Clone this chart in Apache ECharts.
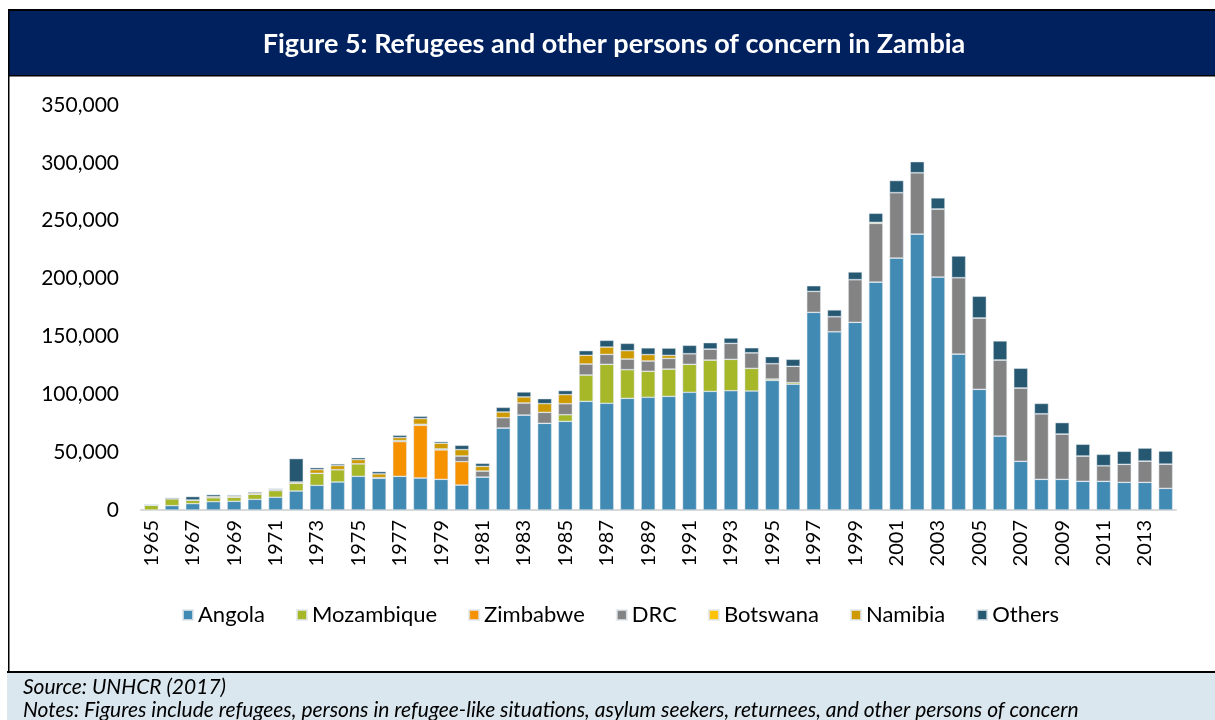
<!DOCTYPE html>
<html>
<head>
<meta charset="utf-8">
<script src="https://cdn.jsdelivr.net/npm/echarts@6/dist/echarts.min.js"></script>
<style>
html,body{margin:0;padding:0;background:#fff;}
#chart{width:1215px;height:720px;}
</style>
</head>
<body>
<div id="chart"></div>
<script>
const years = [];
for (let y = 1965; y <= 2014; y++) years.push(String(y));

const angola = [0,3800,5500,7200,7500,9200,11000,16400,21300,24200,
  29100,27400,29100,27700,26500,21600,28500,70900,82100,74900,
  76600,93900,92200,96500,97400,98200,101700,102500,103100,102800,
  112000,108700,170800,154100,162200,197000,217800,238500,201400,134800,
  104300,64000,42100,26500,26500,24800,24800,23900,23900,18700];
const mozambique = [4300,6000,3200,3500,3700,4600,5800,6900,10400,10700,
  10900,600,0,0,0,0,0,0,0,0,
  5800,22800,33700,24800,22500,23600,24200,27100,27100,19600,
  1200,1400,0,0,0,0,0,0,0,0,
  0,0,0,0,0,0,0,0,0,0];
const zimbabwe = [0,0,0,0,0,0,0,0,0,0,
  0,0,30000,45500,25400,20200,0,0,0,0,
  0,0,0,0,0,0,0,0,0,0,
  0,0,0,0,0,0,0,0,0,0,
  0,0,0,0,0,0,0,0,0,0];
const drc = [0,0,0,0,0,0,1000,0,0,0,
  0,0,900,900,900,4900,5200,8900,10400,9500,
  9500,9500,8600,9200,8900,9200,9200,9500,13800,13500,
  13300,14100,18100,13000,36900,50700,56500,53000,58800,66000,
  61700,65700,63400,56700,39200,21900,13500,15600,18400,21000];
const botswana = [0,0,0,0,0,0,0,0,0,0,
  0,0,0,0,0,0,0,0,0,0,
  0,0,0,0,0,0,0,0,0,0,
  0,0,0,0,0,900,0,0,0,0,
  0,0,0,0,0,0,0,0,0,0];
const namibia = [0,0,0,900,900,1000,600,900,3200,3500,
  3500,3200,2600,4900,4900,5500,4000,4900,5200,7500,
  7800,7500,6300,7200,5500,2600,0,0,0,0,
  0,0,0,0,0,0,0,0,0,0,
  0,0,0,0,0,0,0,0,0,0];
const others = [0,800,2900,1700,900,1000,0,20200,1700,1400,
  1700,2000,2000,2000,1400,3700,2600,4000,4300,4300,
  3500,4000,5800,6300,5800,6300,7200,5500,4600,4300,
  6000,6000,4900,5800,6600,7800,10400,9500,9500,18700,
  18700,16400,17000,8900,9800,10100,9800,11200,11200,11200];

const seriesDefs = [
  ['Angola', angola, '#418AB3'],
  ['Mozambique', mozambique, '#A6B727'],
  ['Zimbabwe', zimbabwe, '#F69200'],
  ['DRC', drc, '#838383'],
  ['Botswana', botswana, '#FEC306'],
  ['Namibia', namibia, '#CE9A00'],
  ['Others', others, '#265871']
];

const FONT = 'Lato, "Open Sans", sans-serif';
const chart = echarts.init(document.getElementById('chart'), null, {renderer: 'canvas'});

const option = {
  animation: false,
  backgroundColor: '#ffffff',
  textStyle: {fontFamily: FONT},
  grid: {left: 141, right: 39, top: 105, bottom: 210, containLabel: false},
  legend: {
    top: 599,
    left: 177,
    itemWidth: 10,
    itemHeight: 10,
    itemGap: 31,
    icon: 'rect',
    textStyle: {fontFamily: FONT, fontSize: 22, color: '#000'},
    data: seriesDefs.map(s => s[0])
  },
  xAxis: {
    type: 'category',
    data: years,
    axisLine: {lineStyle: {color: '#D9D9D9', width: 2}},
    axisTick: {show: false},
    axisLabel: {rotate: 90, interval: 1, color: '#000', fontFamily: FONT, fontSize: 20, margin: 10}
  },
  yAxis: {
    type: 'value',
    min: 0,
    max: 350000,
    interval: 50000,
    splitLine: {show: false},
    axisLine: {show: false},
    axisTick: {show: false},
    axisLabel: {
      color: '#000', fontFamily: FONT, fontSize: 21, margin: 22,
      formatter: v => v.toLocaleString('en-US')
    }
  },
  series: seriesDefs.map(s => ({
    name: s[0],
    type: 'bar',
    stack: 'total',
    data: s[1],
    barWidth: 14,
    itemStyle: {color: s[2], borderColor: 'rgba(225,232,238,0.8)', borderWidth: 0.6}
  })),
  graphic: [
    {type: 'rect', shape: {x: 7, y: 673, width: 1208, height: 47}, style: {fill: '#DAE7EF'}, z: 0},
    {type: 'rect', shape: {x: 8, y: 9, width: 1207, height: 2}, style: {fill: '#000'}},
    {type: 'rect', shape: {x: 9, y: 11, width: 1206, height: 64}, style: {fill: '#00205E'}},
    {type: 'rect', shape: {x: 8, y: 75, width: 1207, height: 1.5}, style: {fill: '#000'}},
    {type: 'rect', shape: {x: 8, y: 9, width: 1.5, height: 663}, style: {fill: '#000'}},
    {type: 'rect', shape: {x: 7, y: 671, width: 1208, height: 2}, style: {fill: '#000'}},
    {type: 'text', x: 614, y: 44, style: {
      text: 'Figure 5: Refugees and other persons of concern in Zambia',
      fill: '#fff', font: 'bold 27px ' + FONT, textAlign: 'center', textVerticalAlign: 'middle'}},
    {type: 'text', x: 23, y: 687, style: {
      text: 'Source: UNHCR (2017)', fill: '#000', font: 'italic 21px ' + FONT,
      textAlign: 'left', textVerticalAlign: 'middle'}},
    {type: 'text', x: 23, y: 710, style: {
      text: 'Notes: Figures include refugees, persons in refugee-like situations, asylum seekers, returnees, and other persons of concern',
      fill: '#000', font: 'italic 21px ' + FONT, textAlign: 'left', textVerticalAlign: 'middle'}}
  ]
};
chart.setOption(option);
</script>
</body>
</html>
